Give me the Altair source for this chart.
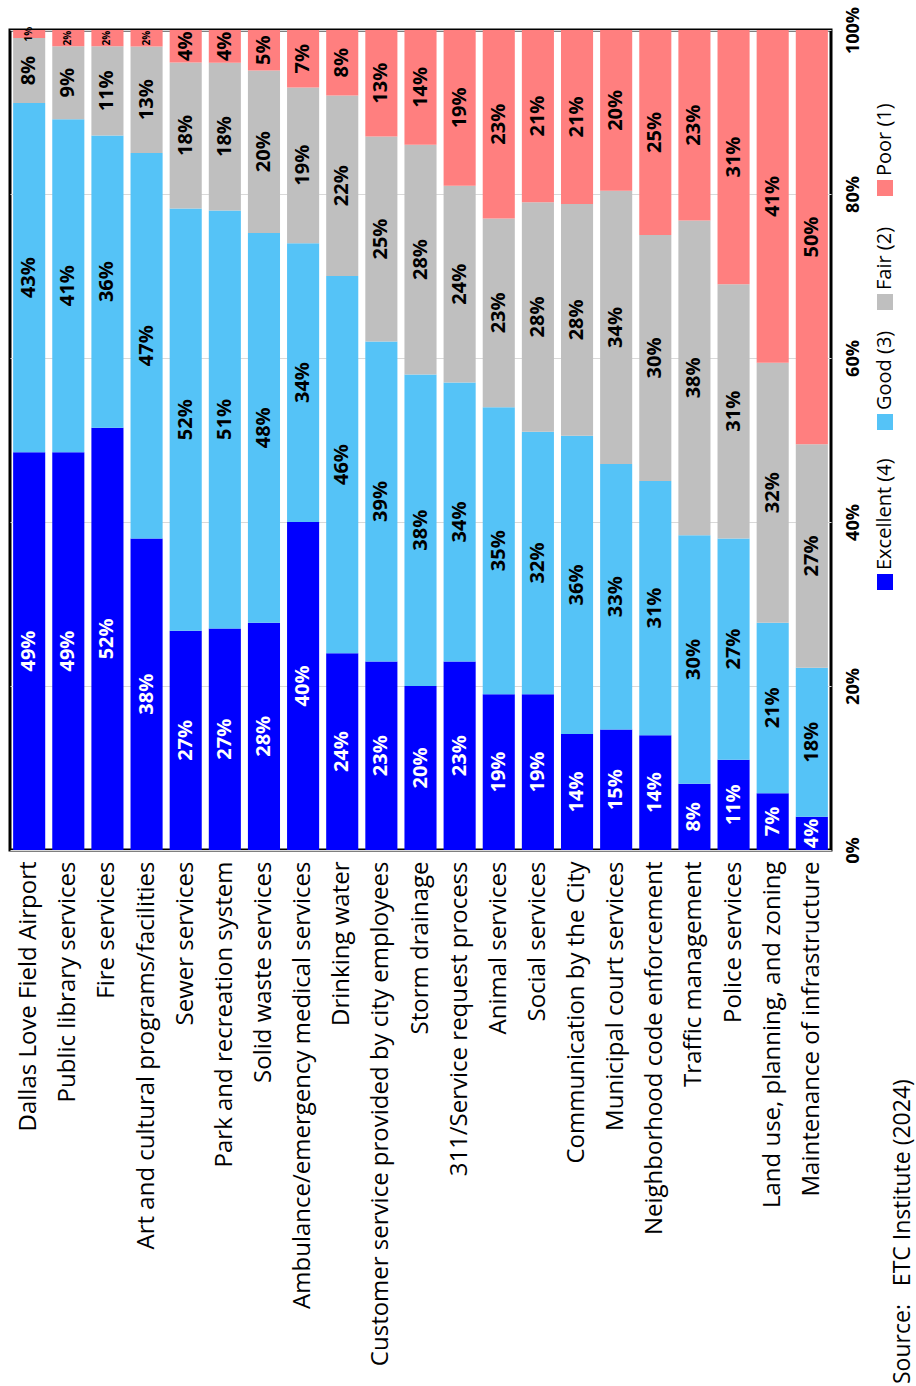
import altair as alt
import pandas as pd

services = [
    "Dallas Love Field Airport",
    "Public library services",
    "Fire services",
    "Art and cultural programs/facilities",
    "Sewer services",
    "Park and recreation system",
    "Solid waste services",
    "Ambulance/emergency medical services",
    "Drinking water",
    "Customer service provided by city employees",
    "Storm drainage",
    "311/Service request process",
    "Animal services",
    "Social services",
    "Communication by the City",
    "Municipal court services",
    "Neighborhood code enforcement",
    "Traffic management",
    "Police services",
    "Land use, planning, and zoning",
    "Maintenance of infrastructure",
]
levels = ["Excellent (4)", "Good (3)", "Fair (2)", "Poor (1)"]
excellent = [49, 49, 52, 38, 27, 27, 28, 40, 24, 23, 20, 23, 19, 19, 14, 15, 14, 8, 11, 7, 4]
good = [43, 41, 36, 47, 52, 51, 48, 34, 46, 39, 38, 34, 35, 32, 36, 33, 31, 30, 27, 21, 18]
fair = [8, 9, 11, 13, 18, 18, 20, 19, 22, 25, 28, 24, 23, 28, 28, 34, 30, 38, 31, 32, 27]
poor = [1, 2, 2, 2, 4, 4, 5, 7, 8, 13, 14, 19, 23, 21, 21, 20, 25, 23, 31, 41, 50]
y_ticks = [0, 0.2, 0.4, 0.6, 0.8, 1.0]
source_text = "Source:\u00a0\u00a0\u00a0ETC Institute (2024)"

colors = ["#0000FF", "#55C3F7", "#BFBFBF", "#FF7F7F"]
FONT = "Open Sans"

rows = []
for i, s in enumerate(services):
    for k, series in enumerate([excellent, good, fair, poor]):
        rows.append({"service": s, "level": levels[k], "order": k, "value": series[i]})
df = pd.DataFrame(rows)

base = alt.Chart(df).transform_stack(
    stack="value",
    groupby=["service"],
    as_=["v0", "v1"],
    offset="normalize",
    sort=[alt.SortField("order", order="ascending")],
).transform_calculate(
    mid="(datum.v0 + datum.v1) / 2",
    lab="datum.value + '%'",
)

xscale = alt.Scale(paddingInner=0.18, paddingOuter=0.08)
yscale = alt.Scale(domain=[0, 1], nice=False, zero=True)

bars = base.mark_bar().encode(
    x=alt.X(
        "service:N",
        sort=services,
        title=None,
        scale=xscale,
        axis=alt.Axis(
            orient="bottom",
            labelAngle=270,
            labelAlign="right",
            labelBaseline="middle",
            labelPadding=11,
            labelFontSize=24,
            labelFont=FONT,
            labelColor="black",
            ticks=False,
            domain=False,
            labelLimit=700,
        ),
    ),
    y=alt.Y(
        "v0:Q",
        scale=yscale,
        title=None,
        axis=alt.Axis(
            orient="right",
            values=y_ticks,
            format="%",
            labelAngle=270,
            labelAlign="center",
            labelBaseline="top",
            labelPadding=13,
            labelFontSize=18,
            labelFontWeight="bold",
            labelFont=FONT,
            labelColor="black",
            ticks=False,
            domain=False,
            grid=True,
            gridColor="#D9D9D9",
        ),
    ),
    y2="v1:Q",
    color=alt.Color(
        "level:N", sort=levels, scale=alt.Scale(domain=levels, range=colors), legend=None
    ),
)

labels = base.mark_text(
    angle=270, font=FONT, fontWeight="bold", baseline="middle", align="center"
).encode(
    x=alt.X("service:N", sort=services, scale=xscale),
    y=alt.Y("mid:Q", scale=yscale),
    text="lab:N",
    color=alt.condition("datum.order == 0", alt.value("white"), alt.value("black")),
    size=alt.condition("datum.value <= 2", alt.value(10), alt.value(20)),
)

# manual rotated legend
leg_y = [552, 392, 272, 158]
legend_layers = []
for k in range(4):
    sq = alt.Chart(alt.Data(values=[{"t": levels[k]}])).mark_square(
        size=256, color=colors[k], opacity=1
    ).encode(x=alt.value(875), y=alt.value(leg_y[k]))
    tx = alt.Chart(alt.Data(values=[{"t": levels[k]}])).mark_text(
        angle=270, align="left", baseline="middle", font=FONT, fontSize=20, color="black"
    ).encode(x=alt.value(875), y=alt.value(leg_y[k] - 12), text="t:N")
    legend_layers += [sq, tx]

source = alt.Chart(alt.Data(values=[{"t": source_text}])).mark_text(
    angle=270, align="left", baseline="middle", font=FONT, fontSize=23, color="black"
).encode(x=alt.value(893), y=alt.value(1354), text="t:N")

chart = alt.layer(bars, labels, *legend_layers, source).properties(
    width=821,
    height=820,
    autosize="none",
    padding={"left": 10, "top": 30, "right": 85, "bottom": 536},
    background="white",
).configure_view(stroke="black", strokeWidth=3)

chart.save("out.html", embed_options={"renderer": "svg", "actions": False})
